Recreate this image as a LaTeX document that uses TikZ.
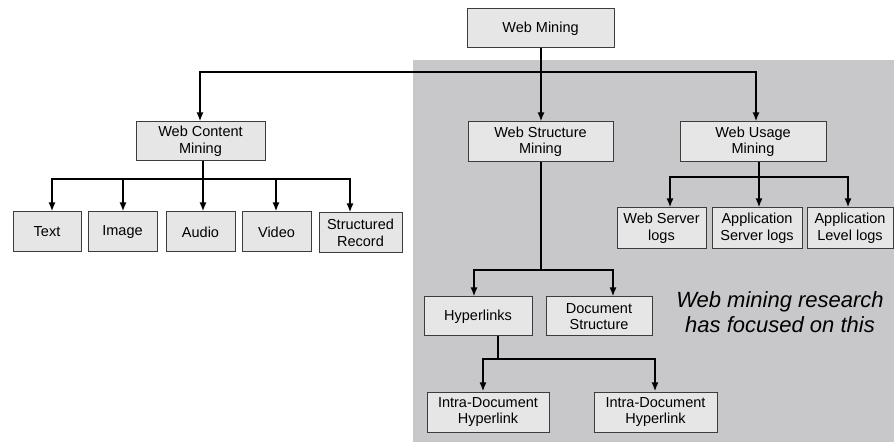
\documentclass[tikz,border=0pt]{standalone}
\usepackage{fontspec}
\setmainfont{Liberation Sans}
\usetikzlibrary{arrows.meta}
\definecolor{panel}{HTML}{C8C8CA}
\definecolor{boxfill}{HTML}{E6E6E6}
\definecolor{boxline}{HTML}{3C3C3C}
\tikzset{
  box/.style={draw=boxline,fill=boxfill,line width=1pt,align=center,inner sep=1pt,
    minimum height=39pt,font=\fontsize{14.5}{16.5}\selectfont},
  link/.style={line width=1.8pt,line cap=rect},
  arr/.style={link,-{Latex[length=9pt,width=7pt]}},
  note/.style={align=center,font=\fontsize{22}{25}\selectfont\itshape}
}
\begin{document}
\begin{tikzpicture}[x=1pt,y=-1pt]
\useasboundingbox (0,0) rectangle (894,443);
\fill[panel] (413,60) rectangle (894,442);

\node[box,minimum width=147pt] (web) at (540.5,28.5) {Web Mining};
\node[box,minimum width=129pt] (content) at (200.5,141.5) {Web Content\\Mining};
\node[box,minimum width=145pt,minimum height=40pt] (structure) at (540.5,142) {Web Structure\\Mining};
\node[box,minimum width=146pt,minimum height=40pt] (usage) at (753,142) {Web Usage\\Mining};

\node[box,minimum width=68pt,minimum height=40pt] (text) at (47,232) {Text};
\node[box,minimum width=69pt,minimum height=40pt] (image) at (122.5,232) {Image};
\node[box,minimum width=69pt,minimum height=40pt] (audio) at (200.5,232) {Audio};
\node[box,minimum width=69pt,minimum height=40pt] (video) at (276.5,232) {Video};
\node[box,minimum width=83pt,minimum height=40pt] (record) at (360.5,233) {Structured\\Record};

\node[box,minimum width=89pt,minimum height=41pt] (wslogs) at (661.5,228.5) {Web Server\\logs};
\node[box,minimum width=90pt,minimum height=41pt] (aslogs) at (757,228.5) {Application\\Server logs};
\node[box,minimum width=86pt,minimum height=41pt] (allogs) at (850,228.5) {Application\\Level logs};

\node[box,minimum width=108pt] (hyper) at (478,316.5) {Hyperlinks};
\node[box,minimum width=106pt] (docstruct) at (599,316.5) {Document\\Structure};
\node[box,minimum width=122pt,minimum height=40pt] (intraA) at (488,412) {Intra-Document\\Hyperlink};
\node[box,minimum width=123pt,minimum height=40pt] (intraB) at (655.5,412) {Intra-Document\\Hyperlink};

\node[note] (focus) at (780,312) {Web mining research\\has focused on this};

% top level
\coordinate (splitweb) at (541,72);
\draw[link] (web.south -| splitweb) -- (splitweb);
\draw[arr] (splitweb) -| ([xshift=-0.5pt]content.north);
\draw[arr] (splitweb) -- (splitweb |- structure.north);
\draw[arr] (splitweb) -| ([xshift=3pt]usage.north);

% content branches
\coordinate (splitcontent) at (203,179);
\draw[link] ([xshift=2.5pt]content.south) -- (splitcontent);
\draw[arr] (splitcontent) -| ([xshift=5pt]text.north);
\draw[arr] (splitcontent) -| ([xshift=0.5pt]image.north);
\draw[arr] (splitcontent) -| ([xshift=2.5pt]audio.north);
\draw[arr] (splitcontent) -| ([xshift=-0.5pt]video.north);
\draw[arr] (splitcontent) -| ([xshift=-10.5pt]record.north);

% usage branches
\coordinate (splitusage) at (759,177);
\draw[link] ([xshift=6pt]usage.south) -- (splitusage);
\draw[arr] (splitusage) -| ([xshift=8.5pt]wslogs.north);
\draw[arr] (splitusage) -| ([xshift=2pt]aslogs.north);
\draw[arr] (splitusage) -| ([xshift=-2pt]allogs.north);

% structure branches
\coordinate (splitstructure) at (541,270);
\draw[link] ([xshift=0.5pt]structure.south) -- (splitstructure);
\draw[arr] (splitstructure) -| ([xshift=-4pt]hyper.north);
\draw[arr] (splitstructure) -| ([xshift=14pt]docstruct.north);

\coordinate (splithyper) at (498,359);
\draw[link] ([xshift=20pt]hyper.south) -- (splithyper);
\draw[arr] (splithyper) -| ([xshift=-5pt]intraA.north);
\draw[arr] (splithyper) -| ([xshift=-0.5pt]intraB.north);
\end{tikzpicture}
\end{document}
